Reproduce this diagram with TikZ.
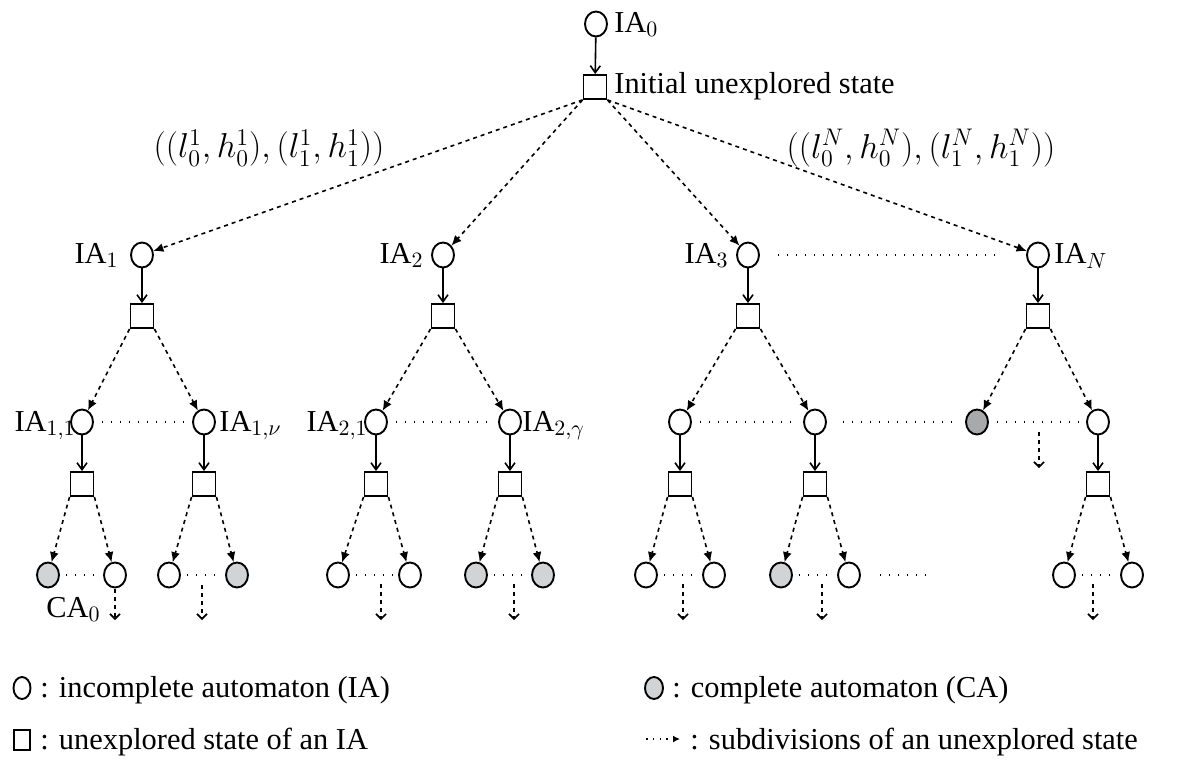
\documentclass[tikz,border=0pt]{standalone}
\usepackage{fontspec}
\setmainfont{Liberation Serif}
\usetikzlibrary{arrows.meta,shapes.geometric}
\definecolor{cagray}{RGB}{210,211,213}
\definecolor{cadark}{RGB}{168,169,171}
\begin{document}
\begin{tikzpicture}[x=0.5pt,y=-0.5pt,
  font=\fontsize{15.2}{18}\selectfont,
  ia/.style={draw, ellipse, line width=0.95pt, minimum width=11pt, minimum height=12.5pt, inner sep=0pt, fill=white},
  ca/.style={ia, fill=cagray},
  cad/.style={ia, fill=cadark},
  us/.style={draw, rectangle, line width=0.95pt, minimum width=11.5pt, minimum height=12pt, inner sep=0pt},
  sub/.style={-{Latex[length=5pt,width=4.5pt]}, line width=0.8pt, dash pattern=on 2pt off 2pt},
  expl/.style={-{Straight Barb[length=3.5pt,width=5pt]}, line width=0.8pt},
  dotsline/.style={line width=0.7pt, dash pattern=on 0.7pt off 3.8pt},
  small/.style={-{Straight Barb[length=2.5pt,width=5pt]}, line width=0.8pt, dash pattern=on 2pt off 2pt},
  lab/.style={inner sep=0pt},
  formula/.style={inner sep=0pt, font=\fontsize{16.4}{19}\selectfont}]
\useasboundingbox (0,0) rectangle (1190,767);

% top
\node[ia] (ia0) at (596,24) {};
\node[us] (s0) at (595,87) {};
\node[lab, anchor=base west] (lia0) at (614,32) {IA$_0$};
\node[lab, anchor=base west] (linit) at (614,93) {Initial unexplored state};
\draw[expl] (ia0) -- (s0);

% level 1
\node[ia] (a1) at (142,255) {};
\node[ia] (a2) at (443,255) {};
\node[ia] (a3) at (748,255) {};
\node[ia] (aN) at (1038,255) {};
\node[us] (s1) at (142,316) {};
\node[us] (s2) at (443,316) {};
\node[us] (s3) at (748,316) {};
\node[us] (sN) at (1038,316) {};
\node[lab, anchor=base east] (la1) at (119,263) {IA$_1$};
\node[lab, anchor=base east] (la2) at (424,263) {IA$_2$};
\node[lab, anchor=base east] (la3) at (729,263) {IA$_3$};
\node[lab, anchor=base west] (laN) at (1054,263) {IA$_N$};
\node[formula] (f1) at (269,148) {$((l_0^1,h_0^1),(l_1^1,h_1^1))$};
\node[formula] (fN) at (921,148) {$((l_0^N,h_0^N),(l_1^N,h_1^N))$};

\draw[sub] (s0.south west) -- (a1);
\draw[sub] (s0.south west) -- (a2);
\draw[sub] (s0.south east) -- (a3);
\draw[sub] (s0.south east) -- (aN);
\foreach \i in {1,2,3,N} \draw[expl] (a\i) -- (s\i);
\draw[dotsline, shorten <=9pt, shorten >=16pt] (a3) -- (aN);

% level 2
\node[ia] (b11) at (82,422) {};
\node[ia] (b1v) at (204,422) {};
\node[ia] (b21) at (376,422) {};
\node[ia] (b2g) at (510,422) {};
\node[ia] (b31) at (680,422) {};
\node[ia] (b32) at (815,422) {};
\node[cad] (bN1) at (977,422) {};
\node[ia] (bN2) at (1098,422) {};
\node[lab, anchor=base east] (lb11) at (76,431) {IA$_{1,1}$};
\node[lab, anchor=base west] (lb1v) at (219,431) {IA$_{1,\nu}$};
\node[lab, anchor=base east] (lb21) at (368,431) {IA$_{2,1}$};
\node[lab, anchor=base west] (lb2g) at (522,431) {IA$_{2,\gamma}$};

\draw[sub] (s1.south west) -- (b11);
\draw[sub] (s1.south east) -- (b1v);
\draw[sub] (s2.south west) -- (b21);
\draw[sub] (s2.south east) -- (b2g);
\draw[sub] (s3.south west) -- (b31);
\draw[sub] (s3.south east) -- (b32);
\draw[sub] (sN.south west) -- (bN1);
\draw[sub] (sN.south east) -- (bN2);

\draw[dotsline, shorten <=4pt, shorten >=4pt] (b11) -- (b1v);
\draw[dotsline, shorten <=4pt, shorten >=4pt] (b21) -- (b2g);
\draw[dotsline, shorten <=4pt, shorten >=4pt] (b31) -- (b32);
\draw[dotsline, shorten <=8pt, shorten >=4pt] (b32) -- (bN1);
\draw[dotsline, shorten <=4pt, shorten >=4pt] (bN1) -- (bN2);
\coordinate (qa) at (1039,432);
\coordinate (qb) at (1039,468);
\draw[small] (qa) -- (qb);

% level 2 squares
\node[us] (t11) at (82,484) {};
\node[us] (t1v) at (204,484) {};
\node[us] (t21) at (376,484) {};
\node[us] (t2g) at (510,484) {};
\node[us] (t31) at (680,484) {};
\node[us] (t32) at (815,484) {};
\node[us] (tN2) at (1098,484) {};
\foreach \n in {11,1v,21,2g,31,32,N2} \draw[expl] (b\n) -- (t\n);

% level 3
\node[ca] (c111) at (48,575) {};
\node[ia] (c112) at (115,575) {};
\node[ia] (c1v1) at (169,575) {};
\node[ca] (c1v2) at (237,575) {};
\node[ia] (c211) at (338,575) {};
\node[ia] (c212) at (410,575) {};
\node[ca] (c2g1) at (476,575) {};
\node[ca] (c2g2) at (543,575) {};
\node[ia] (c311) at (646,575) {};
\node[ia] (c312) at (714,575) {};
\node[ca] (c321) at (781,575) {};
\node[ia] (c322) at (849,575) {};
\node[ia] (cN21) at (1064,575) {};
\node[ia] (cN22) at (1132,575) {};
\node[lab, anchor=base west] (lca0) at (46,617) {CA$_0$};

\foreach \n in {11,1v,21,2g,31,32,N2} {
  \draw[sub] (t\n.south west) -- (c\n1);
  \draw[sub] (t\n.south east) -- (c\n2);
  \draw[dotsline, shorten <=3pt, shorten >=3pt] (c\n1) -- (c\n2);
}
\coordinate (ea) at (880,575);
\coordinate (eb) at (928,575);
\draw[dotsline] (ea) -- (eb);

\foreach \k/\x/\ya in {1/115/589,2/202/585,3/381/584,4/514/584,5/683/584,6/822/584,7/1093/584} {
  \coordinate (pa\k) at (\x,\ya);
  \coordinate (pb\k) at (\x,620);
  \draw[small] (pa\k) -- (pb\k);
}

% legend
\node[ia, minimum width=8.5pt, minimum height=11pt] (g1) at (22,688) {};
\node[lab, anchor=base west] (gt1) at (40,697) {: incomplete automaton (IA)};
\node[us, minimum width=8pt, minimum height=10pt] (g2) at (22,740) {};
\node[lab, anchor=base west] (gt2) at (40,749) {: unexplored state of an IA};
\node[ca, minimum width=9pt, minimum height=11pt] (g3) at (654,688) {};
\node[lab, anchor=base west] (gt3) at (672,697) {: complete automaton (CA)};
\coordinate (g4a) at (646,739);
\coordinate (g4b) at (680,739);
\draw[-{Latex[length=3.5pt,width=3.5pt]}, line width=0.7pt, dash pattern=on 0.8pt off 2.6pt] (g4a) -- (g4b);
\node[lab, anchor=base west] (gt4) at (690,749) {: subdivisions of an unexplored state};
\end{tikzpicture}
\end{document}
